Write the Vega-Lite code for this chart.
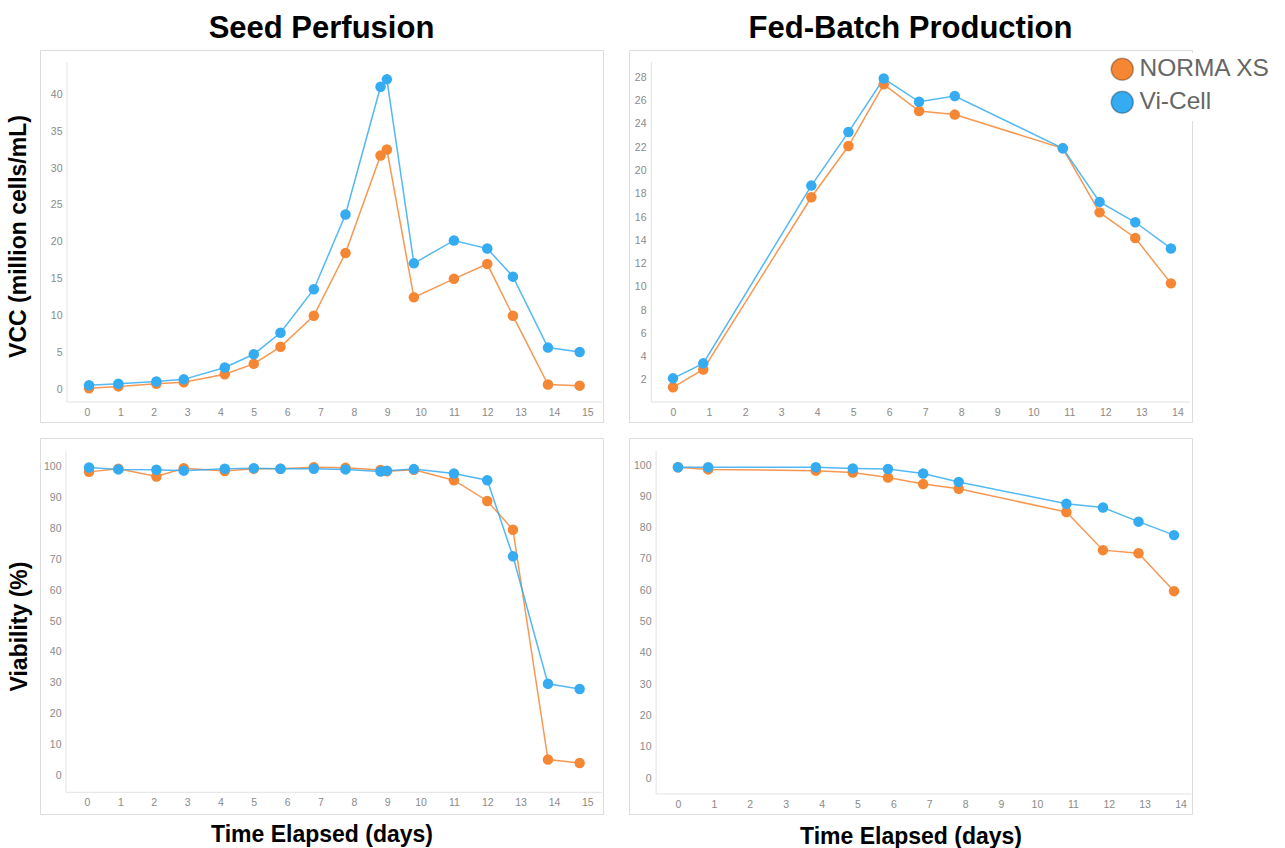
{
  "$schema": "https://vega.github.io/schema/vega-lite/v6.json",
  "background": "white",
  "padding": {"left": 6, "top": 12, "right": 5, "bottom": 2},
  "data": {"values": [
    {"process": "Seed Perfusion", "method": "NORMA XS", "day": 0.06, "vcc": 0.2, "viability": 98.2},
    {"process": "Seed Perfusion", "method": "NORMA XS", "day": 0.94, "vcc": 0.45, "viability": 99.2},
    {"process": "Seed Perfusion", "method": "NORMA XS", "day": 2.08, "vcc": 0.8, "viability": 96.7},
    {"process": "Seed Perfusion", "method": "NORMA XS", "day": 2.9, "vcc": 1.0, "viability": 99.4},
    {"process": "Seed Perfusion", "method": "NORMA XS", "day": 4.13, "vcc": 2.1, "viability": 98.5},
    {"process": "Seed Perfusion", "method": "NORMA XS", "day": 5.0, "vcc": 3.5, "viability": 99.2},
    {"process": "Seed Perfusion", "method": "NORMA XS", "day": 5.8, "vcc": 5.8, "viability": 99.2},
    {"process": "Seed Perfusion", "method": "NORMA XS", "day": 6.8, "vcc": 10.0, "viability": 99.7},
    {"process": "Seed Perfusion", "method": "NORMA XS", "day": 7.75, "vcc": 18.5, "viability": 99.5},
    {"process": "Seed Perfusion", "method": "NORMA XS", "day": 8.8, "vcc": 31.7, "viability": 98.8},
    {"process": "Seed Perfusion", "method": "NORMA XS", "day": 8.99, "vcc": 32.5, "viability": 98.4},
    {"process": "Seed Perfusion", "method": "NORMA XS", "day": 9.8, "vcc": 12.5, "viability": 98.9},
    {"process": "Seed Perfusion", "method": "NORMA XS", "day": 11.0, "vcc": 15.0, "viability": 95.5},
    {"process": "Seed Perfusion", "method": "NORMA XS", "day": 12.0, "vcc": 17.0, "viability": 88.8},
    {"process": "Seed Perfusion", "method": "NORMA XS", "day": 12.77, "vcc": 10.0, "viability": 79.5},
    {"process": "Seed Perfusion", "method": "NORMA XS", "day": 13.82, "vcc": 0.7, "viability": 5.2},
    {"process": "Seed Perfusion", "method": "NORMA XS", "day": 14.77, "vcc": 0.55, "viability": 4.1},
    {"process": "Seed Perfusion", "method": "Vi-Cell", "day": 0.06, "vcc": 0.6, "viability": 99.6},
    {"process": "Seed Perfusion", "method": "Vi-Cell", "day": 0.94, "vcc": 0.8, "viability": 99.0},
    {"process": "Seed Perfusion", "method": "Vi-Cell", "day": 2.08, "vcc": 1.1, "viability": 98.9},
    {"process": "Seed Perfusion", "method": "Vi-Cell", "day": 2.9, "vcc": 1.4, "viability": 98.6},
    {"process": "Seed Perfusion", "method": "Vi-Cell", "day": 4.13, "vcc": 3.0, "viability": 99.2},
    {"process": "Seed Perfusion", "method": "Vi-Cell", "day": 5.0, "vcc": 4.8, "viability": 99.4},
    {"process": "Seed Perfusion", "method": "Vi-Cell", "day": 5.8, "vcc": 7.7, "viability": 99.2},
    {"process": "Seed Perfusion", "method": "Vi-Cell", "day": 6.8, "vcc": 13.6, "viability": 99.2},
    {"process": "Seed Perfusion", "method": "Vi-Cell", "day": 7.75, "vcc": 23.7, "viability": 99.0},
    {"process": "Seed Perfusion", "method": "Vi-Cell", "day": 8.8, "vcc": 41.0, "viability": 98.3},
    {"process": "Seed Perfusion", "method": "Vi-Cell", "day": 8.99, "vcc": 42.0, "viability": 98.6},
    {"process": "Seed Perfusion", "method": "Vi-Cell", "day": 9.8, "vcc": 17.1, "viability": 99.1},
    {"process": "Seed Perfusion", "method": "Vi-Cell", "day": 11.0, "vcc": 20.2, "viability": 97.7},
    {"process": "Seed Perfusion", "method": "Vi-Cell", "day": 12.0, "vcc": 19.1, "viability": 95.5},
    {"process": "Seed Perfusion", "method": "Vi-Cell", "day": 12.77, "vcc": 15.3, "viability": 70.9},
    {"process": "Seed Perfusion", "method": "Vi-Cell", "day": 13.82, "vcc": 5.7, "viability": 29.7},
    {"process": "Seed Perfusion", "method": "Vi-Cell", "day": 14.77, "vcc": 5.1, "viability": 28.0},
    {"process": "Fed-Batch Production", "method": "NORMA XS", "day": 0.0, "vcc": 1.37, "viability": 99.3},
    {"process": "Fed-Batch Production", "method": "NORMA XS", "day": 0.84, "vcc": 2.9, "viability": 98.6},
    {"process": "Fed-Batch Production", "method": "NORMA XS", "day": 3.84, "vcc": 17.7, "viability": 98.2},
    {"process": "Fed-Batch Production", "method": "NORMA XS", "day": 4.87, "vcc": 22.1, "viability": 97.6},
    {"process": "Fed-Batch Production", "method": "NORMA XS", "day": 5.85, "vcc": 27.4, "viability": 96.0},
    {"process": "Fed-Batch Production", "method": "NORMA XS", "day": 6.83, "vcc": 25.1, "viability": 93.9},
    {"process": "Fed-Batch Production", "method": "NORMA XS", "day": 7.82, "vcc": 24.8, "viability": 92.4},
    {"process": "Fed-Batch Production", "method": "NORMA XS", "day": 10.82, "vcc": 21.9, "viability": 85.0},
    {"process": "Fed-Batch Production", "method": "NORMA XS", "day": 11.84, "vcc": 16.4, "viability": 72.8},
    {"process": "Fed-Batch Production", "method": "NORMA XS", "day": 12.83, "vcc": 14.2, "viability": 71.8},
    {"process": "Fed-Batch Production", "method": "NORMA XS", "day": 13.82, "vcc": 10.3, "viability": 59.7},
    {"process": "Fed-Batch Production", "method": "Vi-Cell", "day": 0.0, "vcc": 2.14, "viability": 99.3},
    {"process": "Fed-Batch Production", "method": "Vi-Cell", "day": 0.84, "vcc": 3.43, "viability": 99.3},
    {"process": "Fed-Batch Production", "method": "Vi-Cell", "day": 3.84, "vcc": 18.7, "viability": 99.3},
    {"process": "Fed-Batch Production", "method": "Vi-Cell", "day": 4.87, "vcc": 23.3, "viability": 98.9},
    {"process": "Fed-Batch Production", "method": "Vi-Cell", "day": 5.85, "vcc": 27.9, "viability": 98.7},
    {"process": "Fed-Batch Production", "method": "Vi-Cell", "day": 6.83, "vcc": 25.9, "viability": 97.3},
    {"process": "Fed-Batch Production", "method": "Vi-Cell", "day": 7.82, "vcc": 26.4, "viability": 94.6},
    {"process": "Fed-Batch Production", "method": "Vi-Cell", "day": 10.82, "vcc": 21.9, "viability": 87.6},
    {"process": "Fed-Batch Production", "method": "Vi-Cell", "day": 11.84, "vcc": 17.3, "viability": 86.4},
    {"process": "Fed-Batch Production", "method": "Vi-Cell", "day": 12.83, "vcc": 15.55, "viability": 81.9},
    {"process": "Fed-Batch Production", "method": "Vi-Cell", "day": 13.82, "vcc": 13.3, "viability": 77.6}
  ]},
  "columns": 2,
  "bounds": "flush",
  "spacing": {"row": 16, "column": 26},
  "concat": [
    {
      "width": 563, "height": 372,
      "title": {"text": "Seed Perfusion"},
      "layer": [
        {"data": {"values": [{}]}, "mark": {"type": "rule", "color": "#e3e3e3", "strokeWidth": 1},
         "encoding": {"x": {"datum": -0.6, "type": "quantitative"}, "y": {"datum": -1.66, "type": "quantitative"}, "x2": {"datum": 15.44}}},
        {"data": {"values": [{}]}, "mark": {"type": "rule", "color": "#e3e3e3", "strokeWidth": 1},
         "encoding": {"x": {"datum": -0.6, "type": "quantitative"}, "y": {"datum": -1.66, "type": "quantitative"}, "y2": {"datum": 44.3}}},
        {
          "transform": [{"filter": "datum.process === 'Seed Perfusion'"}],
          "encoding": {
            "x": {"field": "day", "type": "quantitative", "scale": {"domain": [-1.41, 15.47], "nice": false, "zero": false},
                  "axis": {"title": null, "offset": -20, "tickCount": 40, "format": "d", "labelOverlap": false, "values": [0,1,2,3,4,5,6,7,8,9,10,11,12,13,14,15]}},
            "y": {"field": "vcc", "type": "quantitative", "scale": {"domain": [-4.37, 45.97], "nice": false, "zero": false},
                  "axis": {"title": "VCC (million cells/mL)", "offset": -27, "tickCount": 40, "format": "d", "labelOverlap": false, "values": [0,5,10,15,20,25,30,35,40], "titlePadding": 20}}
          },
          "layer": [
            {"mark": {"type": "line", "strokeWidth": 1.5, "opacity": 0.85},
             "encoding": {"detail": {"field": "method", "type": "nominal"},
                          "stroke": {"condition": {"test": "datum.method === 'NORMA XS'", "value": "#F58634"}, "value": "#35ABF1"}}},
            {"mark": {"type": "point", "filled": true, "size": 110, "opacity": 1},
             "encoding": {"color": {"field": "method", "type": "nominal", "scale": {"domain": ["NORMA XS", "Vi-Cell"], "range": ["#F58634", "#35ABF1"]},
               "legend": {"title": null, "orient": "none", "legendX": 1066, "legendY": 3, "symbolType": "circle", "symbolSize": 490,
                          "symbolStrokeWidth": 1.5, "symbolStrokeColor": "rgba(0,0,0,0.28)", "symbolOpacity": 1,
                          "labelFontSize": 24.5, "labelColor": "#666666", "labelFont": "Liberation Sans", "labelOffset": 5,
                          "rowPadding": 4, "padding": 4, "fillColor": "white"}}}}
          ]
        }
      ]
    },
    {
      "width": 563, "height": 372,
      "title": {"text": "Fed-Batch Production"},
      "layer": [
        {"data": {"values": [{}]}, "mark": {"type": "rule", "color": "#e3e3e3", "strokeWidth": 1},
         "encoding": {"x": {"datum": -0.6, "type": "quantitative"}, "y": {"datum": 0.11, "type": "quantitative"}, "x2": {"datum": 14.35}}},
        {"data": {"values": [{}]}, "mark": {"type": "rule", "color": "#e3e3e3", "strokeWidth": 1},
         "encoding": {"x": {"datum": -0.6, "type": "quantitative"}, "y": {"datum": 0.11, "type": "quantitative"}, "y2": {"datum": 29.31}}},
        {
          "transform": [{"filter": "datum.process === 'Fed-Batch Production'"}],
          "encoding": {
            "x": {"field": "day", "type": "quantitative", "scale": {"domain": [-1.221, 14.405], "nice": false, "zero": false},
                  "axis": {"title": null, "offset": -20, "tickCount": 40, "format": "d", "labelOverlap": false, "values": [0,1,2,3,4,5,6,7,8,9,10,11,12,13,14]}},
            "y": {"field": "vcc", "type": "quantitative", "scale": {"domain": [-1.61, 30.35], "nice": false, "zero": false},
                  "axis": {"title": null, "offset": -22, "tickCount": 40, "format": "d", "labelOverlap": false, "values": [2,4,6,8,10,12,14,16,18,20,22,24,26,28]}}
          },
          "layer": [
            {"mark": {"type": "line", "strokeWidth": 1.5, "opacity": 0.85},
             "encoding": {"detail": {"field": "method", "type": "nominal"},
                          "stroke": {"condition": {"test": "datum.method === 'NORMA XS'", "value": "#F58634"}, "value": "#35ABF1"}}},
            {"mark": {"type": "point", "filled": true, "size": 110, "opacity": 1},
             "encoding": {"color": {"field": "method", "type": "nominal", "scale": {"domain": ["NORMA XS", "Vi-Cell"], "range": ["#F58634", "#35ABF1"]}}}}
          ]
        }
      ]
    },
    {
      "width": 563, "height": 376,
      "layer": [
        {"data": {"values": [{}]}, "mark": {"type": "rule", "color": "#e3e3e3", "strokeWidth": 1},
         "encoding": {"x": {"datum": -0.63, "type": "quantitative"}, "y": {"datum": -5.37, "type": "quantitative"}, "x2": {"datum": 15.44}}},
        {"data": {"values": [{}]}, "mark": {"type": "rule", "color": "#e3e3e3", "strokeWidth": 1},
         "encoding": {"x": {"datum": -0.63, "type": "quantitative"}, "y": {"datum": -5.37, "type": "quantitative"}, "y2": {"datum": 104.9}}},
        {
          "transform": [{"filter": "datum.process === 'Seed Perfusion'"}],
          "encoding": {
            "x": {"field": "day", "type": "quantitative", "scale": {"domain": [-1.41, 15.47], "nice": false, "zero": false},
                  "axis": {"title": "Time Elapsed (days)", "offset": -22, "tickCount": 40, "format": "d", "labelOverlap": false, "values": [0,1,2,3,4,5,6,7,8,9,10,11,12,13,14,15], "titlePadding": 16}},
            "y": {"field": "viability", "type": "quantitative", "scale": {"domain": [-12.38, 109.15], "nice": false, "zero": false},
                  "axis": {"title": "Viability (%)", "offset": -26, "tickCount": 40, "format": "d", "labelOverlap": false, "values": [0,10,20,30,40,50,60,70,80,90,100], "titlePadding": 12}}
          },
          "layer": [
            {"mark": {"type": "line", "strokeWidth": 1.5, "opacity": 0.85},
             "encoding": {"detail": {"field": "method", "type": "nominal"},
                          "stroke": {"condition": {"test": "datum.method === 'NORMA XS'", "value": "#F58634"}, "value": "#35ABF1"}}},
            {"mark": {"type": "point", "filled": true, "size": 110, "opacity": 1},
             "encoding": {"color": {"field": "method", "type": "nominal", "scale": {"domain": ["NORMA XS", "Vi-Cell"], "range": ["#F58634", "#35ABF1"]}}}}
          ]
        }
      ]
    },
    {
      "width": 563, "height": 376,
      "layer": [
        {"data": {"values": [{}]}, "mark": {"type": "rule", "color": "#e3e3e3", "strokeWidth": 1},
         "encoding": {"x": {"datum": -0.61, "type": "quantitative"}, "y": {"datum": -5.1, "type": "quantitative"}, "x2": {"datum": 14.3}}},
        {"data": {"values": [{}]}, "mark": {"type": "rule", "color": "#e3e3e3", "strokeWidth": 1},
         "encoding": {"x": {"datum": -0.61, "type": "quantitative"}, "y": {"datum": -5.1, "type": "quantitative"}, "y2": {"datum": 104.5}}},
        {
          "transform": [{"filter": "datum.process === 'Fed-Batch Production'"}],
          "encoding": {
            "x": {"field": "day", "type": "quantitative", "scale": {"domain": [-1.365, 14.32], "nice": false, "zero": false},
                  "axis": {"title": "Time Elapsed (days)", "offset": -20, "tickCount": 40, "format": "d", "labelOverlap": false, "values": [0,1,2,3,4,5,6,7,8,9,10,11,12,13,14], "titlePadding": 16}},
            "y": {"field": "viability", "type": "quantitative", "scale": {"domain": [-11.5, 108.63], "nice": false, "zero": false},
                  "axis": {"title": null, "offset": -27, "tickCount": 40, "format": "d", "labelOverlap": false, "values": [0,10,20,30,40,50,60,70,80,90,100]}}
          },
          "layer": [
            {"mark": {"type": "line", "strokeWidth": 1.5, "opacity": 0.85},
             "encoding": {"detail": {"field": "method", "type": "nominal"},
                          "stroke": {"condition": {"test": "datum.method === 'NORMA XS'", "value": "#F58634"}, "value": "#35ABF1"}}},
            {"mark": {"type": "point", "filled": true, "size": 110, "opacity": 1},
             "encoding": {"color": {"field": "method", "type": "nominal", "scale": {"domain": ["NORMA XS", "Vi-Cell"], "range": ["#F58634", "#35ABF1"]}}}}
          ]
        }
      ]
    }
  ],
  "resolve": {"scale": {"x": "independent", "y": "independent"}},
  "config": {
    "view": {"stroke": "#dcdcdc", "strokeWidth": 1},
    "font": "Liberation Sans",
    "title": {"fontSize": 31, "fontWeight": "bold", "font": "Liberation Sans", "color": "#000000", "anchor": "middle", "baseline": "alphabetic", "offset": 5},
    "axis": {
      "domain": false, "ticks": false, "grid": false,
      "labelColor": "#8a8a8a", "labelFontSize": 10.5, "labelFont": "Liberation Sans", "labelPadding": 5,
      "labelOverlap": false, "labelFlush": false,
      "titleFont": "Liberation Sans", "titleFontSize": 23, "titleFontWeight": "bold", "titleColor": "#000000"
    }
  }
}
